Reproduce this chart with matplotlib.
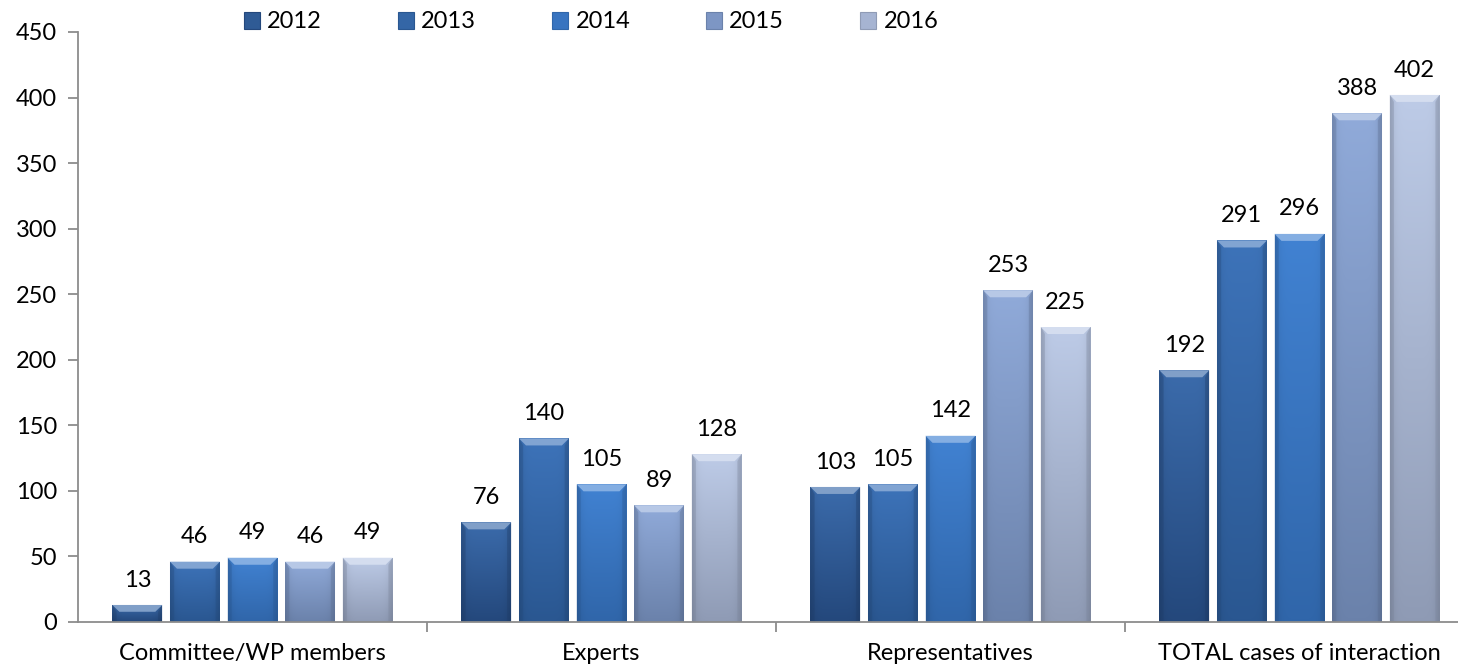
import matplotlib
matplotlib.use("Agg")
import matplotlib.pyplot as plt
import numpy as np
from matplotlib.patches import Rectangle, Polygon
from matplotlib.colors import to_rgb

categories = ["Committee/WP members", "Experts", "Representatives", "TOTAL cases of interaction"]
years = ["2012", "2013", "2014", "2015", "2016"]
v2012 = [13, 76, 103, 192]
v2013 = [46, 140, 105, 291]
v2014 = [49, 105, 142, 296]
v2015 = [46, 89, 253, 388]
v2016 = [49, 128, 225, 402]
series = [v2012, v2013, v2014, v2015, v2016]
yticks = [0, 50, 100, 150, 200, 250, 300, 350, 400, 450]

top_cols = ["#3b6bab", "#3d73b9", "#4182d2", "#90aad9", "#bdcbe7"]
bot_cols = ["#24487c", "#2a5791", "#3066aa", "#6b82ab", "#8f9bb5"]
mid_cols = ["#2f5b95", "#3466a6", "#3874c0", "#7d96c4", "#a6b4d2"]

plt.rcParams['font.family'] = ['Lato', 'DejaVu Sans']
FS = 17
fig = plt.figure(figsize=(14.58, 6.67), dpi=100)
ax = fig.add_axes([78/1458, 45/667, 1380/1458, 590/667])

pitch = 0.165
width = 0.143
x = np.arange(len(categories))
ax.set_xlim(-0.5, -0.5 + 1380/349)
ax.set_ylim(0, 450)

units_per_px = 450 / 590.0
bevel_h = 7 * units_per_px
bevel_w = 7 / 349.0

for i, vals in enumerate(series):
    t = np.array(to_rgb(top_cols[i]))
    b = np.array(to_rgb(bot_cols[i]))
    for j, v in enumerate(vals):
        cx = x[j] + (i - 2) * pitch
        x0, x1 = cx - width / 2, cx + width / 2
        rect = Rectangle((x0, 0), width, v, facecolor=mid_cols[i], edgecolor='none', zorder=2)
        ax.add_patch(rect)
        ny, nx = 64, 32
        fy = np.linspace(0, 1, ny)[:, None, None]
        img = b[None, None, :] * (1 - fy) + t[None, None, :] * fy
        fx = np.linspace(-1, 1, nx)
        shade = 1 - 0.12 * np.abs(fx) ** 6
        img = img * shade[None, :, None]
        img = np.clip(img, 0, 1)
        im = ax.imshow(img, extent=(x0, x1, 0, v), origin='lower', aspect='auto',
                       interpolation='bilinear', zorder=3)
        im.set_clip_path(rect)
        bh = min(bevel_h, v * 0.4)
        light = np.clip(t + (1 - t) * 0.35, 0, 1)
        ax.add_patch(Polygon([(x0, v), (x1, v), (x1 - bevel_w, v - bh), (x0 + bevel_w, v - bh)],
                             closed=True, facecolor=light, edgecolor='none', zorder=4))
        sidec = np.clip(b * 0.85, 0, 1)
        ax.add_patch(Polygon([(x0, 0), (x0, v), (x0 + bevel_w * 0.6, v - bh), (x0 + bevel_w * 0.6, 0)],
                             closed=True, facecolor=sidec, edgecolor='none', alpha=0.35, zorder=4))
        ax.add_patch(Polygon([(x1, 0), (x1, v), (x1 - bevel_w * 0.6, v - bh), (x1 - bevel_w * 0.6, 0)],
                             closed=True, facecolor=sidec, edgecolor='none', alpha=0.35, zorder=4))
        ax.text(cx, v + 11, str(v), ha='center', va='bottom', fontsize=FS, color='black', zorder=5)

for s in ['top', 'right']:
    ax.spines[s].set_visible(False)
for s in ['left', 'bottom']:
    ax.spines[s].set_color('#8c8c8c')
    ax.spines[s].set_linewidth(1.3)
    ax.spines[s].set_zorder(6)

ax.set_yticks(yticks)
ax.set_yticklabels([str(t) for t in yticks])
ax.tick_params(axis='y', direction='out', length=7, width=1.3, color='#8c8c8c',
               labelsize=FS, pad=8)
ax.set_xticks(x)
ax.set_xticklabels(categories)
ax.tick_params(axis='x', length=0, labelsize=FS, pad=15)
ax.set_xticks([0.5, 1.5, 2.5], minor=True)
ax.tick_params(axis='x', which='minor', direction='out', length=7, width=1.3, color='#8c8c8c')

handles = [Rectangle((0, 0), 1, 1, facecolor=mid_cols[i], edgecolor=bot_cols[i], linewidth=0.8)
           for i in range(5)]
fig.legend(handles, years, loc='center', bbox_to_anchor=(591/1458, 1 - 22/667), ncol=5,
           frameon=False, fontsize=FS, handlelength=0.7, handleheight=0.7,
           handletextpad=0.3, columnspacing=3.2)

fig.savefig("out.png", dpi=100)
